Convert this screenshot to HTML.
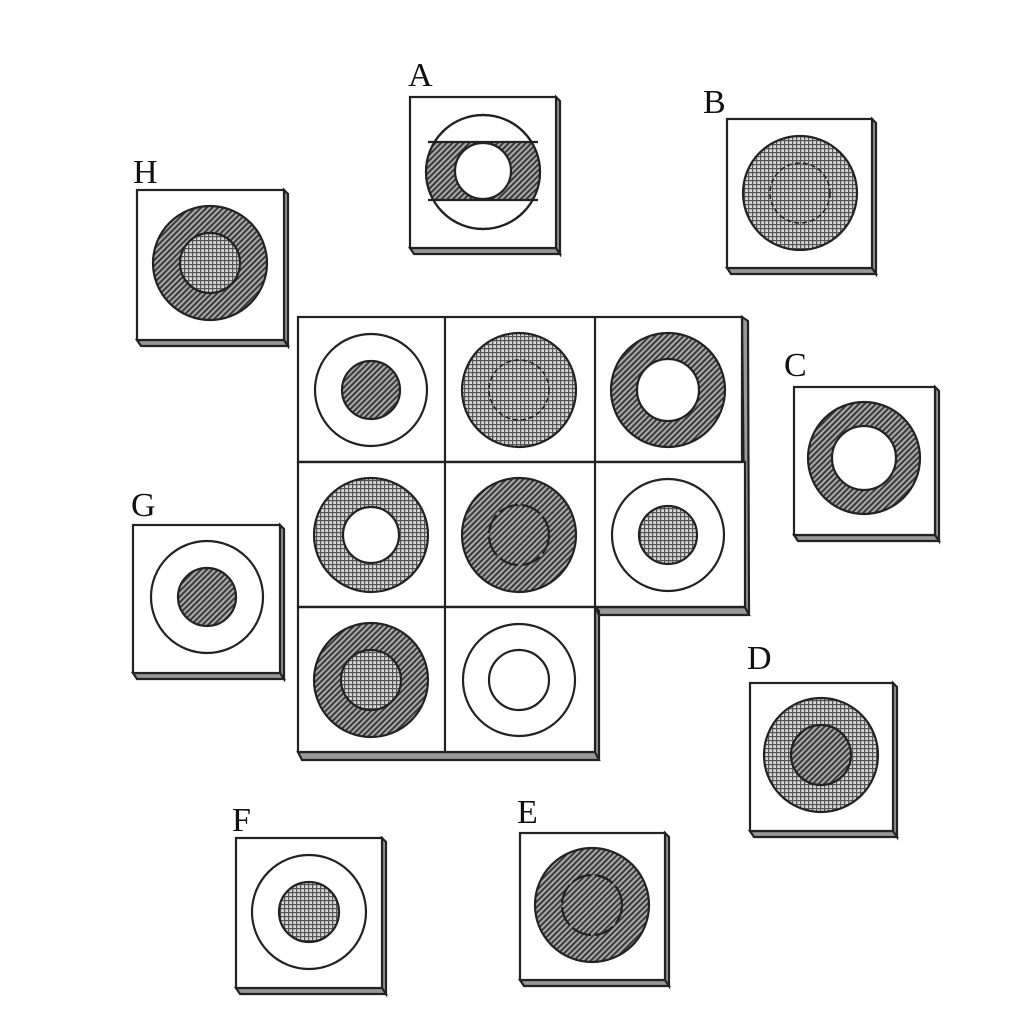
<!DOCTYPE html>
<html><head><meta charset="utf-8"><style>html,body{margin:0;padding:0;background:#fff}svg{display:block}</style></head><body>
<svg width="1024" height="1024" viewBox="0 0 1024 1024" xmlns="http://www.w3.org/2000/svg">
<defs>
<pattern id="h" width="4" height="4" patternUnits="userSpaceOnUse" patternTransform="rotate(45)">
<rect width="4" height="4" fill="#aaa"/><rect width="2" height="4" fill="#3a3a3a"/></pattern>
<pattern id="d" width="4" height="4" patternUnits="userSpaceOnUse">
<rect width="4" height="4" fill="#d8d8d8"/><rect width="4" height="1.2" fill="#555"/><rect width="1.2" height="4" fill="#555"/></pattern>
<clipPath id="ca"><circle cx="483" cy="172" r="57"/></clipPath>
</defs>
<g stroke="#222" stroke-width="2.2" fill="none" font-family="Liberation Serif, serif">
<g id="tiles">
<path d="M410 248 L414 254 L560 254 L556 248 Z M556 97 L560 101 L560 254 L556 248Z" fill="#999"/>
<rect x="410" y="97" width="146" height="151" fill="#fff"/>
<path d="M727 268 L731 274 L876 274 L872 268Z M872 119 L876 123 L876 274 L872 268Z" fill="#999"/>
<rect x="727" y="119" width="145" height="149" fill="#fff"/>
<path d="M137 340 L141 346 L288 346 L284 340Z M284 190 L288 194 L288 346 L284 340Z" fill="#999"/>
<rect x="137" y="190" width="147" height="150" fill="#fff"/>
<path d="M794 535 L798 541 L939 541 L935 535Z M935 387 L939 391 L939 541 L935 535Z" fill="#999"/>
<rect x="794" y="387" width="141" height="148" fill="#fff"/>
<path d="M133 673 L137 679 L284 679 L280 673Z M280 525 L284 529 L284 679 L280 673Z" fill="#999"/>
<rect x="133" y="525" width="147" height="148" fill="#fff"/>
<path d="M750 831 L754 837 L897 837 L893 831Z M893 683 L897 687 L897 837 L893 831Z" fill="#999"/>
<rect x="750" y="683" width="143" height="148" fill="#fff"/>
<path d="M236 988 L240 994 L386 994 L382 988Z M382 838 L386 842 L386 994 L382 988Z" fill="#999"/>
<rect x="236" y="838" width="146" height="150" fill="#fff"/>
<path d="M520 980 L524 986 L669 986 L665 980Z M665 833 L669 837 L669 986 L665 980Z" fill="#999"/>
<rect x="520" y="833" width="145" height="147" fill="#fff"/>
<path d="M298 752 L302 760 L599 760 L595 752Z M595 607 L599 615 L749 615 L745 607Z M742 317 L748 321 L749 615 L745 607Z M595 607 L599 611 L599 760 L595 752Z" fill="#999"/>
<rect x="298" y="317" width="444" height="145" fill="#fff"/>
<rect x="298" y="462" width="447" height="145" fill="#fff"/>
<rect x="298" y="607" width="297" height="145" fill="#fff"/>
<path d="M445 317 V752 M595 317 V607 M298 462 H742 M298 607 H745"/>
</g>
<circle cx="371" cy="390" r="56"/><circle cx="371" cy="390" r="29" fill="url(#h)"/>
<circle cx="519" cy="390" r="57" fill="url(#d)"/><circle cx="519" cy="390" r="30" stroke-dasharray="5 3" stroke-width="1.5"/>
<circle cx="668" cy="390" r="57" fill="url(#h)"/><circle cx="668" cy="390" r="31" fill="#fff"/>
<circle cx="371" cy="535" r="57" fill="url(#d)"/><circle cx="371" cy="535" r="28" fill="#fff"/>
<circle cx="519" cy="535" r="57" fill="url(#h)"/><circle cx="519" cy="535" r="30" stroke-dasharray="20 4"/>
<circle cx="668" cy="535" r="56"/><circle cx="668" cy="535" r="29" fill="url(#d)"/>
<circle cx="371" cy="680" r="57" fill="url(#h)"/><circle cx="371" cy="680" r="30" fill="url(#d)"/>
<circle cx="519" cy="680" r="56"/><circle cx="519" cy="680" r="30"/>
<circle cx="483" cy="172" r="57"/>
<rect x="420" y="142" width="130" height="58" fill="url(#h)" clip-path="url(#ca)" stroke="none"/>
<path d="M428 142 H538 M428 200 H538"/>
<circle cx="483" cy="172" r="57"/>
<circle cx="483" cy="171" r="28" fill="#fff"/>
<circle cx="800" cy="193" r="57" fill="url(#d)"/><circle cx="800" cy="193" r="30" stroke-dasharray="5 3" stroke-width="1.5"/>
<circle cx="210" cy="263" r="57" fill="url(#h)"/><circle cx="210" cy="263" r="30" fill="url(#d)"/>
<circle cx="864" cy="458" r="56" fill="url(#h)"/><circle cx="864" cy="458" r="32" fill="#fff"/>
<circle cx="207" cy="597" r="56"/><circle cx="207" cy="597" r="29" fill="url(#h)"/>
<circle cx="821" cy="755" r="57" fill="url(#d)"/><circle cx="821" cy="755" r="30" fill="url(#h)"/>
<circle cx="309" cy="912" r="57"/><circle cx="309" cy="912" r="30" fill="url(#d)"/>
<circle cx="592" cy="905" r="57" fill="url(#h)"/><circle cx="592" cy="905" r="30" stroke-dasharray="20 4"/>
</g>
<g font-family="Liberation Serif, serif" font-size="34" fill="#111">
<text x="408" y="86">A</text>
<text x="703" y="113">B</text>
<text x="133" y="183">H</text>
<text x="784" y="376">C</text>
<text x="131" y="516">G</text>
<text x="747" y="669">D</text>
<text x="232" y="831">F</text>
<text x="517" y="823">E</text>
</g>
</svg>
</body></html>
